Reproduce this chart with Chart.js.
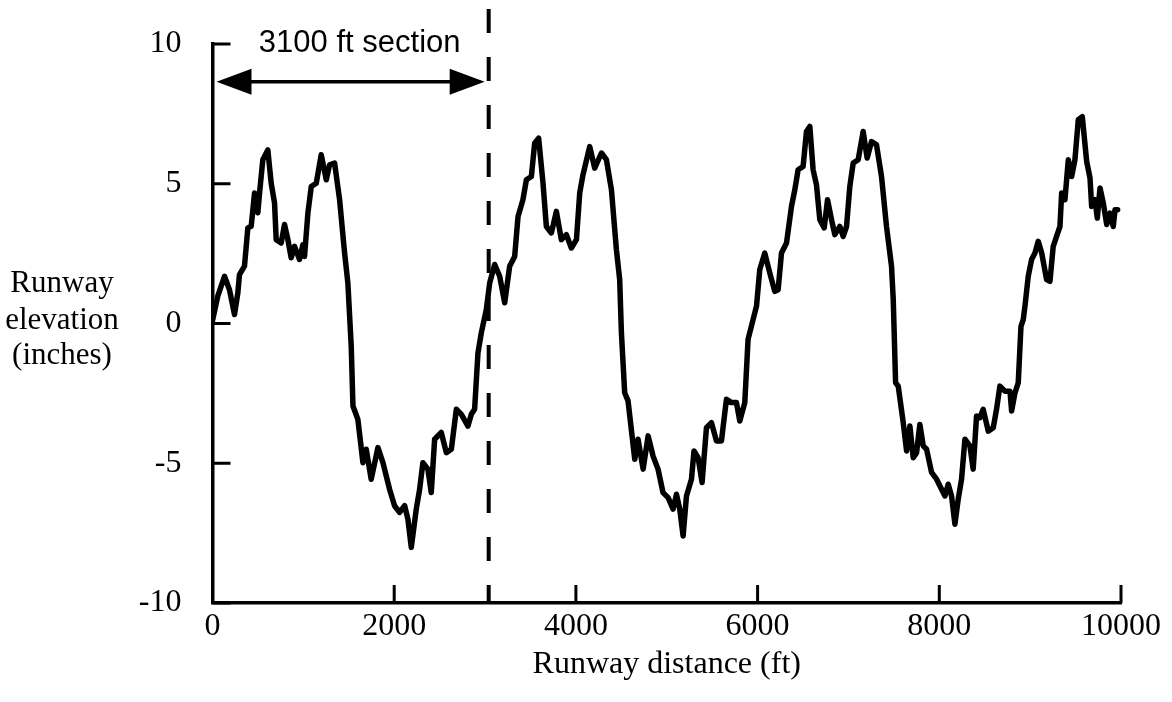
<!DOCTYPE html>
<html>
<head>
<meta charset="utf-8">
<script src="https://cdn.jsdelivr.net/npm/chart.js@4.4.1/dist/chart.umd.min.js"></script>
<style>
  body { margin: 0; background: #fff; }
  canvas { display: block; }
</style>
</head>
<body>
<canvas id="grafico" width="1172" height="702"></canvas>
<script>
// runway distance (ft) and elevation (inches)
const distancia = [
  0, 58, 132, 187, 242, 279, 297, 352, 389, 426, 463, 499, 518, 554, 609, 646, 683, 701, 756, 793,
  830, 866, 903, 958, 995, 1013, 1050, 1087, 1142, 1197, 1252, 1289, 1344, 1399, 1454, 1490, 1527, 1546, 1600, 1656,
  1692, 1747, 1821, 1876, 1949, 2004, 2059, 2115, 2151, 2188, 2243, 2280, 2316, 2371, 2408, 2445, 2518, 2574, 2629, 2684,
  2739, 2812, 2849, 2885, 2922, 2959, 3014, 3051, 3106, 3161, 3216, 3271, 3326, 3363, 3417, 3455, 3510, 3546, 3590, 3638,
  3675, 3730, 3785, 3840, 3895, 3950, 4006, 4042, 4078, 4152, 4207, 4281, 4336, 4391, 4446, 4482, 4501, 4537, 4574, 4648,
  4684, 4740, 4795, 4849, 4904, 4959, 5015, 5070, 5107, 5143, 5180, 5217, 5272, 5300, 5345, 5389, 5437, 5492, 5547, 5602,
  5657, 5712, 5767, 5804, 5859, 5895, 5950, 5988, 6024, 6079, 6134, 6189, 6226, 6263, 6318, 6373, 6410, 6446, 6501, 6538,
  6575, 6611, 6648, 6685, 6733, 6770, 6814, 6850, 6905, 6942, 6979, 7015, 7052, 7107, 7162, 7206, 7254, 7309, 7364, 7419,
  7474, 7493, 7519, 7548, 7603, 7640, 7676, 7713, 7750, 7786, 7823, 7860, 7915, 7970, 8025, 8062, 8098, 8135, 8172, 8208,
  8245, 8282, 8337, 8373, 8410, 8447, 8483, 8539, 8594, 8630, 8667, 8722, 8778, 8796, 8833, 8869, 8899, 8924, 8943, 8979,
  9016, 9053, 9089, 9127, 9181, 9218, 9254, 9291, 9328, 9347, 9383, 9420, 9457, 9493, 9530, 9574, 9622, 9659, 9677, 9714,
  9739, 9769, 9805, 9843, 9879, 9915, 9934, 9963
];
const elevacao = [
  0.1, 0.98, 1.69, 1.21, 0.32, 1.1, 1.75, 2.05, 3.42, 3.48, 4.67, 3.96, 4.67, 5.86, 6.21, 5.02, 4.31, 3.0, 2.88, 3.54,
  3.0, 2.35, 2.76, 2.29, 2.82, 2.4, 3.95, 4.9, 5.02, 6.04, 5.14, 5.68, 5.74, 4.43, 2.52, 1.45, -0.81, -2.95, -3.43, -4.98,
  -4.5, -5.57, -4.44, -4.98, -5.93, -6.52, -6.76, -6.52, -7.0, -8.01, -6.64, -5.93, -4.98, -5.21, -6.05, -4.14, -3.9, -4.62, -4.5, -3.07,
  -3.25, -3.67, -3.25, -3.07, -1.05, -0.33, 0.5, 1.45, 2.11, 1.69, 0.74, 2.05, 2.4, 3.83, 4.43, 5.14, 5.26, 6.45, 6.63, 5.02,
  3.47, 3.24, 4.01, 3.0, 3.18, 2.7, 3.0, 4.67, 5.32, 6.33, 5.56, 6.1, 5.86, 4.79, 2.64, 1.57, -0.33, -2.48, -2.77, -4.86,
  -4.14, -5.21, -4.02, -4.74, -5.21, -6.05, -6.23, -6.64, -6.11, -6.64, -7.6, -6.17, -5.57, -4.56, -4.8, -5.69, -3.73, -3.55, -4.2, -4.2,
  -2.71, -2.83, -2.83, -3.49, -2.83, -0.57, 0.14, 0.62, 1.93, 2.52, 1.81, 1.15, 1.21, 2.52, 2.88, 4.19, 4.79, 5.5, 5.62, 6.87,
  7.05, 5.5, 4.96, 3.71, 3.42, 4.43, 3.71, 3.18, 3.47, 3.12, 3.47, 4.9, 5.74, 5.86, 6.87, 5.92, 6.51, 6.39, 5.26, 3.47,
  2.05, 0.86, -2.12, -2.24, -3.55, -4.56, -3.67, -4.8, -4.62, -3.61, -4.38, -4.5, -5.33, -5.57, -5.93, -6.17, -5.75, -6.17, -7.18, -6.29,
  -5.57, -4.14, -4.38, -5.21, -3.31, -3.37, -3.07, -3.85, -3.73, -3.07, -2.24, -2.42, -2.42, -3.13, -2.48, -2.12, -0.1, 0.14, 0.62, 1.69,
  2.29, 2.52, 2.94, 2.52, 1.57, 1.51, 2.76, 3.12, 3.47, 4.67, 4.43, 5.86, 5.26, 5.86, 7.29, 7.4, 5.8, 5.2, 4.19, 4.43,
  3.77, 4.85, 4.31, 3.54, 3.95, 3.47, 4.07, 4.07
];
const ticksX = [0, 2000, 4000, 6000, 8000, 10000];
const ticksY = [-10, -5, 0, 5, 10];

// 3100 ft section marker (line sits at ~3040 on this scan's axis)
const secaoFim = 3040;
const secaoTexto = '3100 ft section';

const fonteSerif = { family: '"Liberation Serif", "Times New Roman", serif', size: 32 };

const pontos = distancia.map((d, i) => ({ x: d, y: elevacao[i] }));

const extras = {
  id: 'extras',
  afterDraw(chart) {
    const ctx = chart.ctx;
    const area = chart.chartArea;
    const sx = chart.scales.x;
    const sy = chart.scales.y;
    ctx.save();
    ctx.strokeStyle = '#000';
    ctx.fillStyle = '#000';

    // ticks pointing into the plot
    ctx.lineWidth = 3;
    ctx.beginPath();
    ticksX.forEach(v => {
      const px = sx.getPixelForValue(v);
      ctx.moveTo(px, area.bottom);
      ctx.lineTo(px, area.bottom - 18);
    });
    ticksY.forEach(v => {
      const py = sy.getPixelForValue(v);
      ctx.moveTo(area.left, py);
      ctx.lineTo(area.left + 18, py);
    });
    ctx.stroke();

    // y title, horizontal, three lines
    ctx.font = '31px "Liberation Serif", "Times New Roman", serif';
    ctx.textAlign = 'center';
    ctx.textBaseline = 'alphabetic';
    ctx.fillText('Runway', 62, 292);
    ctx.fillText('elevation', 62, 329);
    ctx.fillText('(inches)', 62, 364);

    // dashed section line
    const xd = sx.getPixelForValue(secaoFim);
    ctx.lineWidth = 4;
    ctx.setLineDash([24, 24]);
    ctx.lineDashOffset = 39;
    ctx.beginPath();
    ctx.moveTo(xd, 0);
    ctx.lineTo(xd, area.bottom);
    ctx.stroke();
    ctx.setLineDash([]);

    // double arrow
    const ya = sy.getPixelForValue(8.65);
    const x0 = sx.getPixelForValue(0) + 4;
    const x1 = xd - 4;
    ctx.lineWidth = 3.5;
    ctx.beginPath();
    ctx.moveTo(x0 + 20, ya);
    ctx.lineTo(x1 - 20, ya);
    ctx.stroke();
    ctx.beginPath();
    ctx.moveTo(x0, ya);
    ctx.lineTo(x0 + 35, ya - 13);
    ctx.lineTo(x0 + 35, ya + 13);
    ctx.closePath();
    ctx.fill();
    ctx.beginPath();
    ctx.moveTo(x1, ya);
    ctx.lineTo(x1 - 35, ya - 13);
    ctx.lineTo(x1 - 35, ya + 13);
    ctx.closePath();
    ctx.fill();

    ctx.font = '31px "Liberation Sans", Arial, sans-serif';
    ctx.fillText(secaoTexto, sx.getPixelForValue(1620), sy.getPixelForValue(9.7));
    ctx.restore();
  }
};

const ctx = document.getElementById('grafico').getContext('2d');
new Chart(ctx, {
  type: 'line',
  data: {
    datasets: [{
      data: pontos,
      borderColor: '#000',
      borderWidth: 5.5,
      pointRadius: 0,
      tension: 0,
      borderJoinStyle: 'round',
      borderCapStyle: 'round',
      fill: false
    }]
  },
  options: {
    responsive: false,
    animation: false,
    layout: { padding: { top: 44, right: 51, left: 0, bottom: 0 } },
    plugins: {
      legend: { display: false },
      tooltip: { enabled: false }
    },
    scales: {
      x: {
        type: 'linear',
        min: 0,
        max: 10000,
        afterBuildTicks: s => { s.ticks = ticksX.map(v => ({ value: v })); },
        afterFit: s => { s.height = 99; },
        ticks: {
          font: fonteSerif,
          color: '#000',
          padding: -4,
          maxRotation: 0,
          autoSkip: false,
          callback: v => String(v)
        },
        grid: { display: false },
        border: { display: true, color: '#000', width: 3.5 },
        title: {
          display: true,
          text: 'Runway distance (ft)',
          font: fonteSerif,
          color: '#000',
          padding: { top: 0, bottom: 18 }
        }
      },
      y: {
        type: 'linear',
        min: -10,
        max: 10,
        afterBuildTicks: s => { s.ticks = ticksY.map(v => ({ value: v })); },
        afterFit: s => { s.width = 212.5; },
        ticks: { font: fonteSerif, color: '#000', padding: 23, callback: v => String(v) },
        grid: { display: false },
        border: { display: true, color: '#000', width: 3.5 }
      }
    }
  },
  plugins: [extras]
});
</script>
</body>
</html>
